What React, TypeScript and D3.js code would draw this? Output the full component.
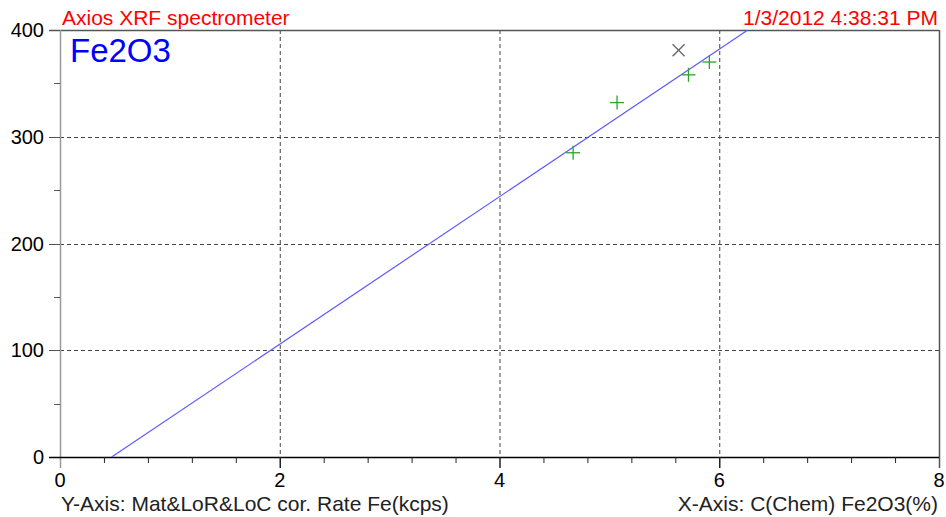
import React from "react";
import * as d3 from "d3";

const stdX = [4.67, 5.07, 5.72, 5.91];
const stdY = [285, 332, 358, 370];
const outX = [5.63];
const outY = [381];
const calX = [0.47, 6.26];
const calY = [0, 400];
const xTicks = [0, 2, 4, 6, 8];
const yTicks = [0, 100, 200, 300, 400];
const title = "Fe2O3";
const header = "Axios XRF spectrometer";
const stamp = "1/3/2012 4:38:31 PM";
const yAxisLabel = "Y-Axis: Mat&LoR&LoC cor. Rate Fe(kcps)";
const xAxisLabel = "X-Axis: C(Chem) Fe2O3(%)";

const W = 946;
const H = 517;
const FONT = "'Liberation Sans', Arial, sans-serif";

export default function App() {
  const x = d3.scaleLinear().domain([0, 8]).range([60, 939]);
  const y = d3.scaleLinear().domain([0, 400]).range([457, 30]);
  const xMinor = d3.range(0, 8.001, 0.4).filter((v) => Math.abs(v / 2 - Math.round(v / 2)) > 1e-6);
  const yMinor = d3.range(50, 400, 100);
  const line = d3
    .line<number>()
    .x((d) => x(calX[d]))
    .y((d) => y(calY[d]));
  const s = 7;
  return (
    <svg
      width={W}
      height={H}
      style={{ position: "absolute", left: 0, top: 0, background: "#fff" }}
      fontFamily={FONT}
    >
      <defs>
        <clipPath id="plot">
          <rect x={x(0)} y={y(400)} width={x(8) - x(0)} height={y(0) - y(400)} />
        </clipPath>
      </defs>
      {xTicks.slice(1, -1).map((t) => (
        <line
          key={"gx" + t}
          x1={x(t) + 0.5}
          x2={x(t) + 0.5}
          y1={y(400)}
          y2={y(0)}
          stroke="#444"
          strokeWidth={1}
          strokeDasharray="4,3"
        />
      ))}
      {yTicks.slice(1, -1).map((t) => (
        <line
          key={"gy" + t}
          x1={x(0)}
          x2={x(8)}
          y1={Math.round(y(t)) + 0.5}
          y2={Math.round(y(t)) + 0.5}
          stroke="#444"
          strokeWidth={1}
          strokeDasharray="4,3"
        />
      ))}
      <line x1={49} x2={x(8)} y1={Math.round(y(400)) + 0.5} y2={Math.round(y(400)) + 0.5} stroke="#555" strokeWidth={1.5} />
      <line x1={x(8) + 0.5} x2={x(8) + 0.5} y1={y(400)} y2={468} stroke="#555" strokeWidth={1.5} />
      <line x1={x(0) + 0.5} x2={x(0) + 0.5} y1={y(400)} y2={468} stroke="#999" strokeWidth={1.5} />
      {yTicks.map((t) => (
        <line key={"yt" + t} x1={49} x2={x(0)} y1={Math.round(y(t)) + 0.5} y2={Math.round(y(t)) + 0.5} stroke="#555" strokeWidth={1} />
      ))}
      {yMinor.map((t) => (
        <line key={"ym" + t} x1={54} x2={x(0)} y1={Math.round(y(t)) + 0.5} y2={Math.round(y(t)) + 0.5} stroke="#555" strokeWidth={1} />
      ))}
      <line x1={49} x2={x(8)} y1={y(0) + 0.5} y2={y(0) + 0.5} stroke="#000" strokeWidth={1.5} />
      {xTicks.slice(1, -1).map((t) => (
        <line key={"xt" + t} x1={x(t) + 0.5} x2={x(t) + 0.5} y1={y(0)} y2={468} stroke="#222" strokeWidth={1.5} />
      ))}
      {xMinor.map((t) => (
        <line key={"xm" + t} x1={x(t) + 0.5} x2={x(t) + 0.5} y1={y(0)} y2={463} stroke="#222" strokeWidth={1} />
      ))}
      {yTicks.map((t) => (
        <text key={"yl" + t} x={44} y={y(t)} dy="0.36em" textAnchor="end" fontSize={20} fill="#000">
          {t}
        </text>
      ))}
      {xTicks.map((t) => (
        <text key={"xl" + t} x={x(t)} y={487} textAnchor="middle" fontSize={20} fill="#000">
          {t}
        </text>
      ))}
      <g clipPath="url(#plot)">
        <path d={line([0, 1]) || ""} stroke="#5a5aff" strokeWidth={1.2} fill="none" />
      </g>
      {stdX.map((v, i) => (
        <g key={"p" + i} stroke="#2aa52a" strokeWidth={1.3}>
          <line x1={x(v) - s} x2={x(v) + s} y1={y(stdY[i])} y2={y(stdY[i])} />
          <line x1={x(v)} x2={x(v)} y1={y(stdY[i]) - s} y2={y(stdY[i]) + s} />
        </g>
      ))}
      {outX.map((v, i) => (
        <g key={"o" + i} stroke="#666" strokeWidth={1.3}>
          <line x1={x(v) - 6} x2={x(v) + 6} y1={y(outY[i]) - 6} y2={y(outY[i]) + 6} />
          <line x1={x(v) - 6} x2={x(v) + 6} y1={y(outY[i]) + 6} y2={y(outY[i]) - 6} />
        </g>
      ))}
      <text x={62} y={25} fontSize={21} fill="#ff0000">{header}</text>
      <text x={938} y={25} fontSize={21} fill="#ff0000" textAnchor="end">{stamp}</text>
      <text x={70} y={62} fontSize={33} fill="#0000ff">{title}</text>
      <text x={61} y={511} fontSize={21} fill="#222">{yAxisLabel}</text>
      <text x={938} y={511} fontSize={21} fill="#222" textAnchor="end">{xAxisLabel}</text>
    </svg>
  );
}
